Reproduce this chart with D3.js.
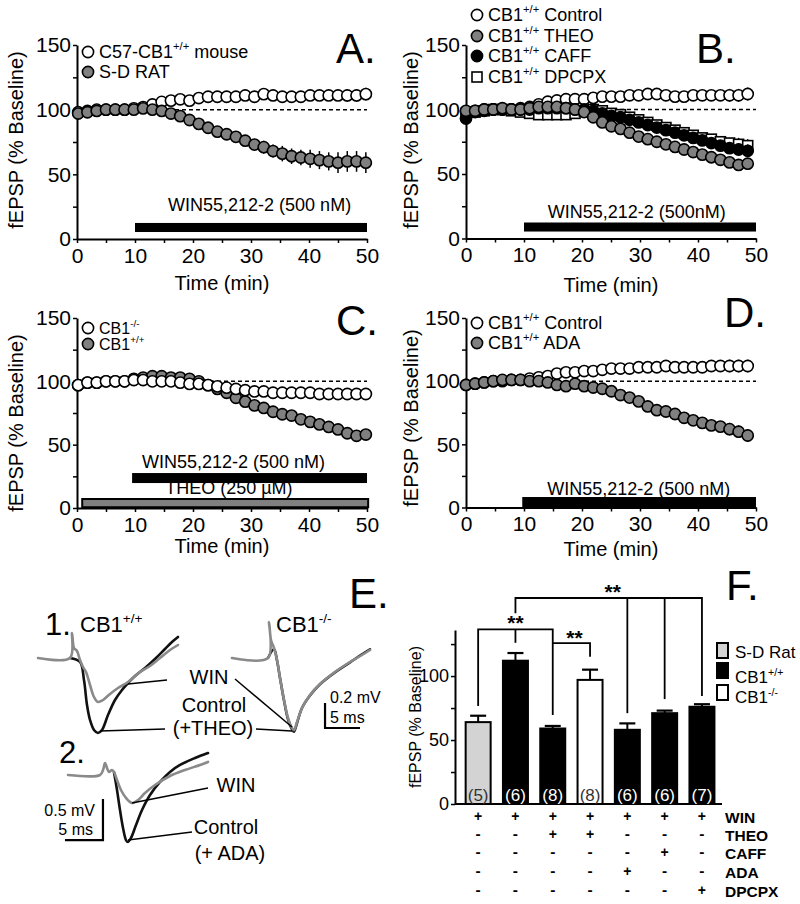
<!DOCTYPE html>
<html><head><meta charset="utf-8">
<script src="https://cdn.jsdelivr.net/npm/d3@7"></script>
<style>
body{margin:0;background:#fff}
svg{display:block}
text{font-family:"Liberation Sans",Arial,Helvetica,sans-serif;fill:#000}
</style>
</head><body>
<svg id="fig" width="800" height="904"></svg>
<script>
// ---------------- DATA ----------------
const timesA = [0.2,1.8,3.4,5,6.6,8.2,9.8,11.4,13,14.6,16.2,17.8,19.4,21,22.6,24.2,25.8,27.4,29,30.6,32.2,33.8,35.4,37,38.6,40.2,41.8,43.4,45,46.6,48.2,49.8];
const timesB = [0,1.57,3.13,4.7,6.27,7.84,9.4,10.97,12.54,14.1,15.67,17.24,18.8,20.37,21.94,23.5,25.07,26.64,28.2,29.77,31.34,32.9,34.47,36.04,37.6,39.17,40.74,42.3,43.87,45.44,47,48.57];

// Panel A
const aMouse    = [98,99,100,100,100,100,101,102,104,106,107,108,107,109,110,110,110,110,111,110,112,111,110,110,110,111,111,111,111,111,111,112];
const aMouseErr = [1,1,1,1,1,1,1,1,1,1,1,1,2,2,2,2,2,2,2,2,3,3,3,3,3,4,4,4,4,5,5,5];
const aRat      = [97,98,99,100,100,100,100,101,100,99,97,95,92,89,86,83,81,79,76,73,71,68,66,64,63,62,61,60,59,60,60,59];
const aRatErr   = [1,1,1,1,1,1,1,1,1,1,2,2,2,2,3,3,3,4,4,4,5,5,6,6,6,7,7,7,8,8,8,8];
// Panel B
const bControl    = [98,99,100,100,100,100,101,102,104,106,107,108,108,108,109,110,110,110,111,111,112,112,111,110,110,111,111,111,111,111,111,112];
const bControlErr = [1,1,1,1,1,1,1,1,1,1,1,1,2,2,2,2,2,2,2,2,3,3,3,3,3,4,4,4,4,5,5,5];
const bTheo       = [99,99,100,100,101,100,100,101,102,102,102,101,100,98,94,90,87,85,82,79,77,75,73,71,69,67,65,63,61,59,57,58];
const bTheoErr    = [1,1,1,1,1,1,1,1,1,1,1,1,1,1,2,2,2,2,2,2,2,2,2,2,2,2,3,3,3,3,3,3];
const bCaff       = [93,98,99,100,100,100,100,100,101,101,101,101,100,100,99,97,95,94,92,90,88,86,84,82,80,78,76,74,72,70,69,68];
const bCaffErr    = [2,1,1,1,1,1,1,1,1,1,1,1,1,1,2,2,2,2,3,3,3,3,3,3,4,4,4,4,4,4,5,5];
const bDpcpx      = [97,98,99,100,100,99,98,97,96,96,96,96,97,99,100,99,97,96,94,92,90,88,86,84,82,80,78,77,75,74,73,72];
const bDpcpxErr   = [1,1,1,1,1,1,1,1,1,1,1,1,1,1,2,2,2,2,3,3,3,3,3,3,4,4,4,4,4,4,5,5];
// Panel C
const cKO    = [97,99,99,100,100,100,101,101,100,100,100,99,98,98,97,96,95,94,93,92,92,91,91,91,91,91,90,90,90,90,90,90];
const cKOErr = [1,1,1,1,1,1,1,1,1,1,1,1,1,1,2,2,2,2,2,3,3,3,3,3,3,3,4,4,4,4,4,4];
const cWT    = [97,99,99,100,100,100,102,103,104,104,103,103,102,100,97,94,91,87,84,81,79,76,74,73,70,68,66,64,62,59,57,58];
const cWTErr = [1,1,1,1,1,1,1,1,1,1,1,1,1,1,1,2,2,2,2,2,2,2,2,2,2,2,2,3,3,3,3,3];
// Panel D
const dControl    = [97,98,99,100,100,101,101,102,103,104,106,107,107,108,108,109,110,110,110,111,111,111,112,111,111,111,111,112,112,112,112,112];
const dControlErr = [1,1,1,1,1,1,1,1,1,1,1,1,1,2,2,2,2,2,2,2,3,3,3,3,3,3,4,4,4,5,5,5];
const dAda        = [97,98,99,100,101,101,101,100,100,99,97,96,98,96,95,94,92,89,87,84,80,77,76,74,71,69,67,65,64,62,60,57];
const dAdaErr     = [1,1,1,1,1,1,1,1,1,1,1,1,1,2,2,2,2,3,3,3,3,3,3,3,3,4,4,4,4,5,5,5];

const xTickValues = [0,5,10,15,20,25,30,35,40,45,50];
const yTickValues = [0,25,50,75,100,125,150];

// Panel E traces (ms, mV)
const e1WinT  = [0,4.57,4.86,5.14,5.57,6,6.43,6.86,7.43,8,8.57,9.29,10.29,11.43,12.86,14.57,16,17.43,18.86,20];
const e1WinV  = [0,0,0.2,0.08,0.056,-0.016,-0.072,-0.112,-0.216,-0.312,-0.352,-0.336,-0.288,-0.24,-0.192,-0.112,-0.064,0,0.064,0.104];
const e1CtlT  = [4.57,6,6.57,7,7.43,8,8.57,9.14,10,11,12,12.86,13.86,15.29,16.71,18.14,19.14,20];
const e1CtlV  = [0,-0.032,-0.176,-0.376,-0.496,-0.576,-0.6,-0.576,-0.456,-0.336,-0.256,-0.2,-0.144,-0.08,-0.008,0.072,0.128,0.168];
const e1KoWinT = [0,5.14,5.29,5.57,6,6.43,6.86,7.43,8,8.57,8.86,9.29,10,11.14,12.57,14.71,16.86,18.57,19.71];
const e1KoWinV = [0,0,0.288,0.144,0.08,-0.016,-0.16,-0.336,-0.48,-0.56,-0.576,-0.512,-0.4,-0.296,-0.208,-0.112,-0.032,0.024,0.064];
const e1KoCtlT = [5.14,6,6.43,6.86,7.43,8,8.57,8.86,9.29,10,11.14,12.57,14.71,16.86,18.57,19.71];
const e1KoCtlV = [0,0.07,-0.02,-0.16,-0.34,-0.49,-0.57,-0.59,-0.52,-0.4,-0.3,-0.21,-0.115,-0.035,0.03,0.07];
const e2WinT  = [0,4.21,4.61,4.87,5.13,5.39,5.79,6.05,6.45,6.97,7.63,8.42,9.21,10.13,11.45,13.42,15.39,17.37,18.42];
const e2WinV  = [0,0,0.061,0.146,0.085,0.037,0.061,0.037,-0.061,-0.183,-0.28,-0.341,-0.305,-0.22,-0.122,-0.012,0.061,0.122,0.159];
const e2CtlT  = [6.05,6.45,6.84,7.24,7.63,7.89,8.29,8.95,9.74,10.79,12.11,13.42,14.74,16.71,18.42];
const e2CtlV  = [0.037,-0.183,-0.427,-0.646,-0.793,-0.817,-0.768,-0.61,-0.427,-0.244,-0.085,0.037,0.122,0.207,0.268];

// Panel F
const barNs     = ["(5)","(6)","(8)","(8)","(6)","(6)","(7)"];
const barValues = [64,112,59,97,58,71,76];
const barErrors = [5,6,2,8,5,2,2];
const barGroups = ["rat","wt","wt","ko","wt","wt","wt"];
const groupNames = ["rat","wt","ko"];
const treatmentNames = ["WIN","THEO","CAFF","ADA","DPCPX"];
const treatmentTable = [
  ["+","+","+","+","+","+","+"],
  ["-","-","+","+","-","-","-"],
  ["-","-","-","-","-","+","-"],
  ["-","-","-","-","+","-","-"],
  ["-","-","-","-","-","-","+"]
];
const fYTicks = [0,25,50,75,100,125];

// ---------------- DRAWING ----------------
const svg = d3.select("#fig");
const GRAY = "#808080";

function richText(parent, x, y, parts, size, opts = {}) {
  const t = parent.append("text").attr("x", x).attr("y", y).attr("font-size", size);
  if (opts.anchor) t.attr("text-anchor", opts.anchor);
  if (opts.weight) t.attr("font-weight", opts.weight);
  if (opts.fill) t.style("fill", opts.fill);
  let shifted = 0;
  parts.forEach(p => {
    const isSup = Array.isArray(p);
    const sp = t.append("tspan").text(isSup ? p[0] : p);
    if (isSup) { sp.attr("font-size", size * 0.62).attr("dy", -size * 0.42); shifted = size * 0.42; }
    else if (shifted) { sp.attr("dy", shifted); shifted = 0; }
  });
  return t;
}

function marker(sel, shape, fill, x, y) {
  if (shape === "square") {
    sel.append("rect").attr("x", x - 5).attr("y", y - 5).attr("width", 10).attr("height", 10)
      .attr("fill", fill).attr("stroke", "#000").attr("stroke-width", 1.6);
  } else {
    sel.append("circle").attr("cx", x).attr("cy", y).attr("r", 5.6)
      .attr("fill", fill).attr("stroke", "#000").attr("stroke-width", 1.6);
  }
}

function timePanel(cfg) {
  const g = svg.append("g");
  const x = d3.scaleLinear().domain([0, 50]).range([cfg.x0, cfg.x1]);
  const y = d3.scaleLinear().domain([0, 150]).range([cfg.y0, cfg.y1]);

  const xa = g.append("g").attr("transform", `translate(0,${cfg.y0})`)
    .call(d3.axisBottom(x).tickValues(xTickValues).tickFormat(d => d % 10 === 0 ? d : "")
      .tickSize(4).tickSizeOuter(0).tickPadding(5));
  const ya = g.append("g").attr("transform", `translate(${cfg.x0},0)`)
    .call(d3.axisLeft(y).tickValues(yTickValues).tickFormat(d => d % 50 === 0 ? d : "")
      .tickSize(4).tickSizeOuter(0).tickPadding(2));
  [xa, ya].forEach(a => {
    a.select(".domain").attr("stroke-width", 2);
    a.selectAll(".tick line").attr("stroke-width", 1.5);
    a.selectAll("text").attr("font-size", 21);
  });

  g.append("line").attr("x1", x(0)).attr("x2", x(50)).attr("y1", y(100)).attr("y2", y(100))
    .attr("stroke", "#000").attr("stroke-width", 1.5).attr("stroke-dasharray", "4,3");

  cfg.bars.forEach(b => {
    g.append("rect").attr("x", x(b.start)).attr("width", x(b.end) - x(b.start))
      .attr("y", y(b.hi)).attr("height", y(b.lo) - y(b.hi))
      .attr("fill", b.fill).attr("stroke", "#000").attr("stroke-width", b.fill === "#000" ? 0 : 2);
    g.append("text").attr("x", x(b.textAt)).attr("y", y(b.hi) + b.textDy)
      .attr("font-size", 18).text(b.label);
  });

  cfg.series.forEach(s => {
    const pts = cfg.times.map((t, i) => ({ t, v: s.values[i], e: s.errors[i] }));
    g.append("g").selectAll("line").data(pts).join("line")
      .attr("x1", d => x(d.t)).attr("x2", d => x(d.t))
      .attr("y1", d => y(d.v - d.e)).attr("y2", d => y(d.v + d.e))
      .attr("stroke", "#000").attr("stroke-width", 1.5);
    const mg = g.append("g");
    pts.forEach(d => marker(mg, s.shape, s.fill, x(d.t), y(d.v)));
  });

  cfg.legend.forEach((l, i) => {
    marker(g, l.shape, l.fill, cfg.legX, cfg.legY[i]);
    richText(g, cfg.legX + 11, cfg.legY[i] + 6, l.parts, cfg.legSize);
  });

  g.append("text").attr("transform", `translate(${cfg.ylabX},${cfg.ylabY}) rotate(-90)`)
    .attr("text-anchor", "middle").attr("dominant-baseline", "central").attr("font-size", 20)
    .text("fEPSP (% Baseline)");
  g.append("text").attr("x", (cfg.x0 + cfg.x1) / 2).attr("y", cfg.xlabY).attr("text-anchor", "middle")
    .attr("font-size", 20).text("Time (min)");
  g.append("text").attr("x", cfg.letterX).attr("y", cfg.letterY).attr("font-size", 42).text(cfg.letter);
}

timePanel({
  x0: 77, x1: 367, y0: 239, y1: 45, times: timesA,
  bars: [{ start: 10, end: 50, lo: 5.4, hi: 12.4, fill: "#000", label: "WIN55,212-2 (500 nM)", textAt: 15.7, textDy: -12 }],
  series: [
    { values: aMouse, errors: aMouseErr, shape: "circle", fill: "#fff" },
    { values: aRat, errors: aRatErr, shape: "circle", fill: GRAY }
  ],
  legend: [
    { shape: "circle", fill: "#fff", parts: ["C57-CB1", ["+/+"], " mouse"] },
    { shape: "circle", fill: GRAY, parts: ["S-D RAT"] }
  ],
  legX: 88, legY: [52, 72], legSize: 18,
  ylabX: 16, ylabY: 140, xlabY: 290, letter: "A.", letterX: 336, letterY: 63
});

timePanel({
  x0: 466, x1: 756, y0: 238.5, y1: 45, times: timesB,
  bars: [{ start: 10, end: 50, lo: 5.4, hi: 12.4, fill: "#000", label: "WIN55,212-2 (500nM)", textAt: 14.1, textDy: -5 }],
  series: [
    { values: bControl, errors: bControlErr, shape: "circle", fill: "#fff" },
    { values: bDpcpx, errors: bDpcpxErr, shape: "square", fill: "#fff" },
    { values: bCaff, errors: bCaffErr, shape: "circle", fill: "#000" },
    { values: bTheo, errors: bTheoErr, shape: "circle", fill: GRAY }
  ],
  legend: [
    { shape: "circle", fill: "#fff", parts: ["CB1", ["+/+"], " Control"] },
    { shape: "circle", fill: GRAY, parts: ["CB1", ["+/+"], " THEO"] },
    { shape: "circle", fill: "#000", parts: ["CB1", ["+/+"], " CAFF"] },
    { shape: "square", fill: "#fff", parts: ["CB1", ["+/+"], " DPCPX"] }
  ],
  legX: 477, legY: [15, 36, 56, 77], legSize: 18,
  ylabX: 411, ylabY: 140, xlabY: 292, letter: "B.", letterX: 696, letterY: 63
});

timePanel({
  x0: 77, x1: 367, y0: 508, y1: 318, times: timesA,
  bars: [
    { start: 9.5, end: 50, lo: 19.7, hi: 27.6, fill: "#000", label: "WIN55,212-2 (500 nM)", textAt: 11.2, textDy: -5 },
    { start: 0.9, end: 50.2, lo: 0.6, hi: 7.1, fill: GRAY, label: "THEO (250 µM)", textAt: 15.2, textDy: -5 }
  ],
  series: [
    { values: cWT, errors: cWTErr, shape: "circle", fill: GRAY },
    { values: cKO, errors: cKOErr, shape: "circle", fill: "#fff" }
  ],
  legend: [
    { shape: "circle", fill: "#fff", parts: ["CB1", ["-/-"]] },
    { shape: "circle", fill: GRAY, parts: ["CB1", ["+/+"]] }
  ],
  legX: 88, legY: [328, 344], legSize: 16,
  ylabX: 16, ylabY: 423, xlabY: 553, letter: "C.", letterX: 336, letterY: 335
});

timePanel({
  x0: 466, x1: 756, y0: 507.5, y1: 318, times: timesB,
  bars: [{ start: 9.7, end: 50, lo: 0.4, hi: 8.3, fill: "#000", label: "WIN55,212-2 (500 nM)", textAt: 14, textDy: -2 }],
  series: [
    { values: dControl, errors: dControlErr, shape: "circle", fill: "#fff" },
    { values: dAda, errors: dAdaErr, shape: "circle", fill: GRAY }
  ],
  legend: [
    { shape: "circle", fill: "#fff", parts: ["CB1", ["+/+"], " Control"] },
    { shape: "circle", fill: GRAY, parts: ["CB1", ["+/+"], " ADA"] }
  ],
  legX: 477, legY: [323, 343], legSize: 18,
  ylabX: 411, ylabY: 418, xlabY: 556, letter: "D.", letterX: 724, letterY: 327
});

// ---------------- PANEL E ----------------
(function panelE() {
  const g = svg.append("g");
  const TR_GRAY = "#8a8a8a";
  function trace(T, V, xs, ys, color) {
    g.append("path").datum(T.map((t, i) => [t, V[i]]))
      .attr("d", d3.line().x(d => xs(d[0])).y(d => ys(d[1])).curve(d3.curveCatmullRom.alpha(0.5)))
      .attr("fill", "none").attr("stroke", color).attr("stroke-width", 2.6)
      .attr("stroke-linejoin", "round").attr("stroke-linecap", "round");
  }
  const x1L = d3.scaleLinear().domain([0, 5]).range([38, 73]);
  const x1R = d3.scaleLinear().domain([0, 5]).range([232, 267]);
  const y1 = d3.scaleLinear().domain([0, 0.2]).range([658, 633]);
  const x2 = d3.scaleLinear().domain([0, 5]).range([68, 106]);
  const y2 = d3.scaleLinear().domain([0, 0.5]).range([775, 734]);

  trace(e1CtlT, e1CtlV, x1L, y1, "#111");
  trace(e1WinT, e1WinV, x1L, y1, TR_GRAY);
  trace(e1KoCtlT, e1KoCtlV, x1R, y1, "#222");
  trace(e1KoWinT, e1KoWinV, x1R, y1, TR_GRAY);
  trace(e2CtlT, e2CtlV, x2, y2, "#111");
  trace(e2WinT, e2WinV, x2, y2, TR_GRAY);

  const sb = (pts) => g.append("path").attr("d", d3.line()(pts)).attr("fill", "none")
    .attr("stroke", "#000").attr("stroke-width", 2.2);
  sb([[x1R(13.29), y1(-0.36)], [x1R(13.29), y1(-0.56)], [x1R(18.29), y1(-0.56)]]);
  sb([[x2(-0.4), y2(-0.793)], [x2(4.6), y2(-0.793)], [x2(4.6), y2(-0.293)]]);

  const ll = (a, b) => g.append("line").attr("x1", a[0]).attr("y1", a[1]).attr("x2", b[0]).attr("y2", b[1])
    .attr("stroke", "#000").attr("stroke-width", 1.5);
  ll([128, 684], [167, 680]);
  ll([100, 731], [165, 729]);
  ll([235, 679], [292, 727]);
  ll([256, 729], [292, 731]);
  ll([132, 803], [208, 788]);
  ll([128, 840], [192, 832]);

  g.append("text").attr("x", 45).attr("y", 635).attr("font-size", 31).text("1.");
  g.append("text").attr("x", 59).attr("y", 763).attr("font-size", 31).text("2.");
  richText(g, 80, 632, ["CB1", ["+/+"]], 22);
  richText(g, 276, 632, ["CB1", ["-/-"]], 22);
  g.append("text").attr("x", 209).attr("y", 684).attr("text-anchor", "middle").attr("font-size", 20).text("WIN");
  g.append("text").attr("x", 214).attr("y", 712).attr("text-anchor", "middle").attr("font-size", 20).text("Control");
  g.append("text").attr("x", 213).attr("y", 735).attr("text-anchor", "middle").attr("font-size", 20).text("(+THEO)");
  g.append("text").attr("x", 330).attr("y", 703).attr("font-size", 16).text("0.2 mV");
  g.append("text").attr("x", 330).attr("y", 723).attr("font-size", 16).text("5 ms");
  g.append("text").attr("x", 236).attr("y", 792).attr("text-anchor", "middle").attr("font-size", 20).text("WIN");
  g.append("text").attr("x", 226).attr("y", 834).attr("text-anchor", "middle").attr("font-size", 20).text("Control");
  g.append("text").attr("x", 230).attr("y", 860).attr("text-anchor", "middle").attr("font-size", 20).text("(+ ADA)");
  g.append("text").attr("x", 95).attr("y", 816).attr("text-anchor", "end").attr("font-size", 16).text("0.5 mV");
  g.append("text").attr("x", 93).attr("y", 835).attr("text-anchor", "end").attr("font-size", 16).text("5 ms");
  g.append("text").attr("x", 349).attr("y", 608).attr("font-size", 42).text("E.");
})();

// ---------------- PANEL F ----------------
(function panelF() {
  const g = svg.append("g");
  const xF = d3.scaleBand().domain(d3.range(barValues.length)).range([459.5, 720.6])
    .paddingInner(0.33).paddingOuter(0.165);
  const yF = d3.scaleLinear().domain([0, 136]).range([804, 630]);
  const fillOf = { rat: "#d3d3d3", wt: "#000", ko: "#fff" };
  const cx = i => xF(i) + xF.bandwidth() / 2;

  const ya = g.append("g").attr("transform", "translate(455,0)")
    .call(d3.axisLeft(yF).tickValues(fYTicks).tickFormat(d => d % 50 === 0 ? d : "")
      .tickSize(4).tickSizeOuter(0).tickPadding(2));
  ya.select(".domain").attr("stroke-width", 2);
  ya.selectAll(".tick line").attr("stroke-width", 1.5);
  ya.selectAll("text").attr("font-size", 18);
  g.append("line").attr("x1", 455).attr("x2", 722).attr("y1", yF(0)).attr("y2", yF(0))
    .attr("stroke", "#000").attr("stroke-width", 2);

  barValues.forEach((v, i) => {
    g.append("line").attr("x1", cx(i)).attr("x2", cx(i)).attr("y1", yF(v)).attr("y2", yF(v + barErrors[i]))
      .attr("stroke", "#000").attr("stroke-width", 2);
    g.append("line").attr("x1", cx(i) - 8).attr("x2", cx(i) + 8)
      .attr("y1", yF(v + barErrors[i])).attr("y2", yF(v + barErrors[i]))
      .attr("stroke", "#000").attr("stroke-width", 2.2);
    g.append("rect").attr("x", xF(i)).attr("width", xF.bandwidth()).attr("y", yF(v)).attr("height", yF(0) - yF(v))
      .attr("fill", fillOf[barGroups[i]]).attr("stroke", "#000").attr("stroke-width", 2);
    g.append("text").attr("x", cx(i)).attr("y", 801).attr("text-anchor", "middle").attr("font-size", 17)
      .style("fill", barGroups[i] === "wt" ? "#fff" : "#333").text(barNs[i]);
  });

  const path = pts => g.append("path").attr("d", d3.line()(pts)).attr("fill", "none")
    .attr("stroke", "#000").attr("stroke-width", 1.8);
  path([[cx(0), yF(76.6)], [cx(0), yF(136.5)], [cx(2), yF(136.5)], [cx(2), yF(69.5)]]);
  path([[cx(1), yF(126)], [cx(1), yF(136.5)]]);
  path([[cx(1), yF(149)], [cx(1), yF(161)], [cx(6), yF(161)], [cx(6), yF(84.4)]]);
  path([[cx(4), yF(161)], [cx(4), yF(71)]]);
  path([[cx(5), yF(161)], [cx(5), yF(82)]]);
  path([[cx(2), yF(125.8)], [cx(3), yF(125.8)], [cx(3), yF(115)]]);
  const stars = (x, y) => g.append("text").attr("x", x).attr("y", y).attr("text-anchor", "middle")
    .attr("font-size", 21).attr("font-weight", "bold").text("**");
  stars((cx(1) + cx(6)) / 2 + 4, 599);
  stars(cx(1), 630);
  stars((cx(2) + cx(3)) / 2 + 3, 645);

  g.append("text").attr("transform", "translate(415,717) rotate(-90)").attr("text-anchor", "middle")
    .attr("dominant-baseline", "central").attr("font-size", 16).text("fEPSP (% Baseline)");

  const legParts = { rat: ["S-D Rat"], wt: ["CB1", ["+/+"]], ko: ["CB1", ["-/-"]] };
  const legY = [643, 663, 685];
  const legBase = [658, 683, 703];
  groupNames.forEach((k, i) => {
    g.append("rect").attr("x", 717).attr("y", legY[i]).attr("width", 11).attr("height", 15)
      .attr("fill", fillOf[k]).attr("stroke", "#000").attr("stroke-width", 2);
    richText(g, 735, legBase[i], legParts[k], 17);
  });

  const rowBase = [823, 841, 859, 878, 897];
  treatmentNames.forEach((name, r) => {
    g.append("text").attr("x", 725).attr("y", rowBase[r]).attr("font-size", 15.5).attr("font-weight", "bold").text(name);
    treatmentTable[r].forEach((s, i) => {
      g.append("text").attr("x", cx(i)).attr("y", rowBase[r] - 2).attr("text-anchor", "middle")
        .attr("font-size", s === "-" ? 15.5 : 14).attr("font-weight", "bold").text(s);
    });
  });

  g.append("text").attr("x", 726).attr("y", 600).attr("font-size", 42).text("F.");
})();
</script>
</body></html>
